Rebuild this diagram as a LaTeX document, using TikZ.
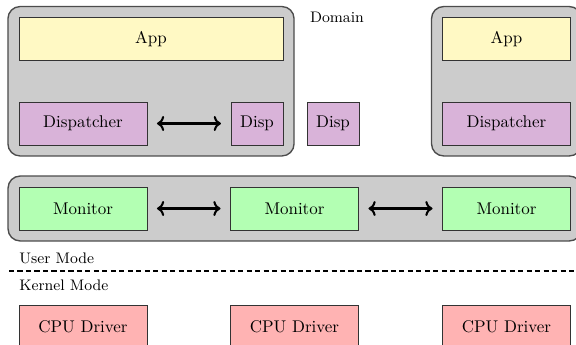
\documentclass[tikz,border=0pt]{standalone}
\usepackage{tikz}
\usetikzlibrary{positioning,arrows.meta,fit,backgrounds}
\definecolor{DomGray}{HTML}{CCCCCC}
\definecolor{AppY}{HTML}{FFF9C4}
\definecolor{DispV}{HTML}{D9B3D9}
\definecolor{MonG}{HTML}{B3FFB3}
\definecolor{CpuR}{HTML}{FFB3B3}

\begin{document}
\begin{tikzpicture}[x=0.0207cm,y=-0.0207cm,
  box/.style={draw=black!80, minimum height=0.89cm, minimum width=2.65cm},
  small box/.style={box, minimum width=1.08cm},
  domainbox/.style={draw=black!70, thick, fill=DomGray, rounded corners=0.25cm, inner sep=0.22cm},
  link/.style={<->, very thick, shorten <=0.2cm, shorten >=0.2cm},
  tag/.style={font=\small, inner sep=0pt}]
  \useasboundingbox (0,0) rectangle (576,344);
  % domains
  \node[box, fill=AppY, minimum width=5.47cm] (appL) at (151,39) {App};
  \node[box, fill=DispV] (dispL) at (83,123.5) {Dispatcher};
  \node[small box, fill=DispV] (dspA) at (257,123.5) {Disp};
  \node[small box, fill=DispV] (dspB) at (333,123.5) {Disp};
  \node[box, fill=AppY] (appR) at (506.5,39) {App};
  \node[box, fill=DispV] (dispR) at (506.5,123.5) {Dispatcher};
  \node[tag] (dom) at (337,17) {Domain};
  \draw[link] (dispL) -- (dspA);
  % monitors and drivers
  \foreach \i/\x in {1/83, 2/294.5, 3/506.5}{
    \node[box, fill=MonG] (mon\i) at (\x,208.5) {Monitor};
    \node[box, fill=CpuR] (cpu\i) at (\x,326.5) {CPU Driver};
  }
  \draw[link] (mon1) -- (mon2);
  \draw[link] (mon2) -- (mon3);
  \begin{scope}[on background layer]
    \node[domainbox, fit=(appL)(dispL)(dspA)] (domL) {};
    \node[domainbox, fit=(appR)(dispR)] (domR) {};
    \node[domainbox, fit=(mon1)(mon3)] (monbox) {};
  \end{scope}
  % mode split
  \node[tag, anchor=west] (user) at (19,258) {User Mode};
  \node[tag, anchor=west] (kernel) at (19,285) {Kernel Mode};
  \coordinate (sepL) at (9,271);
  \coordinate (sepR) at (576,271);
  \draw[thick, dash pattern=on 3pt off 2pt] (sepL) -- (sepR);
\end{tikzpicture}
\end{document}
